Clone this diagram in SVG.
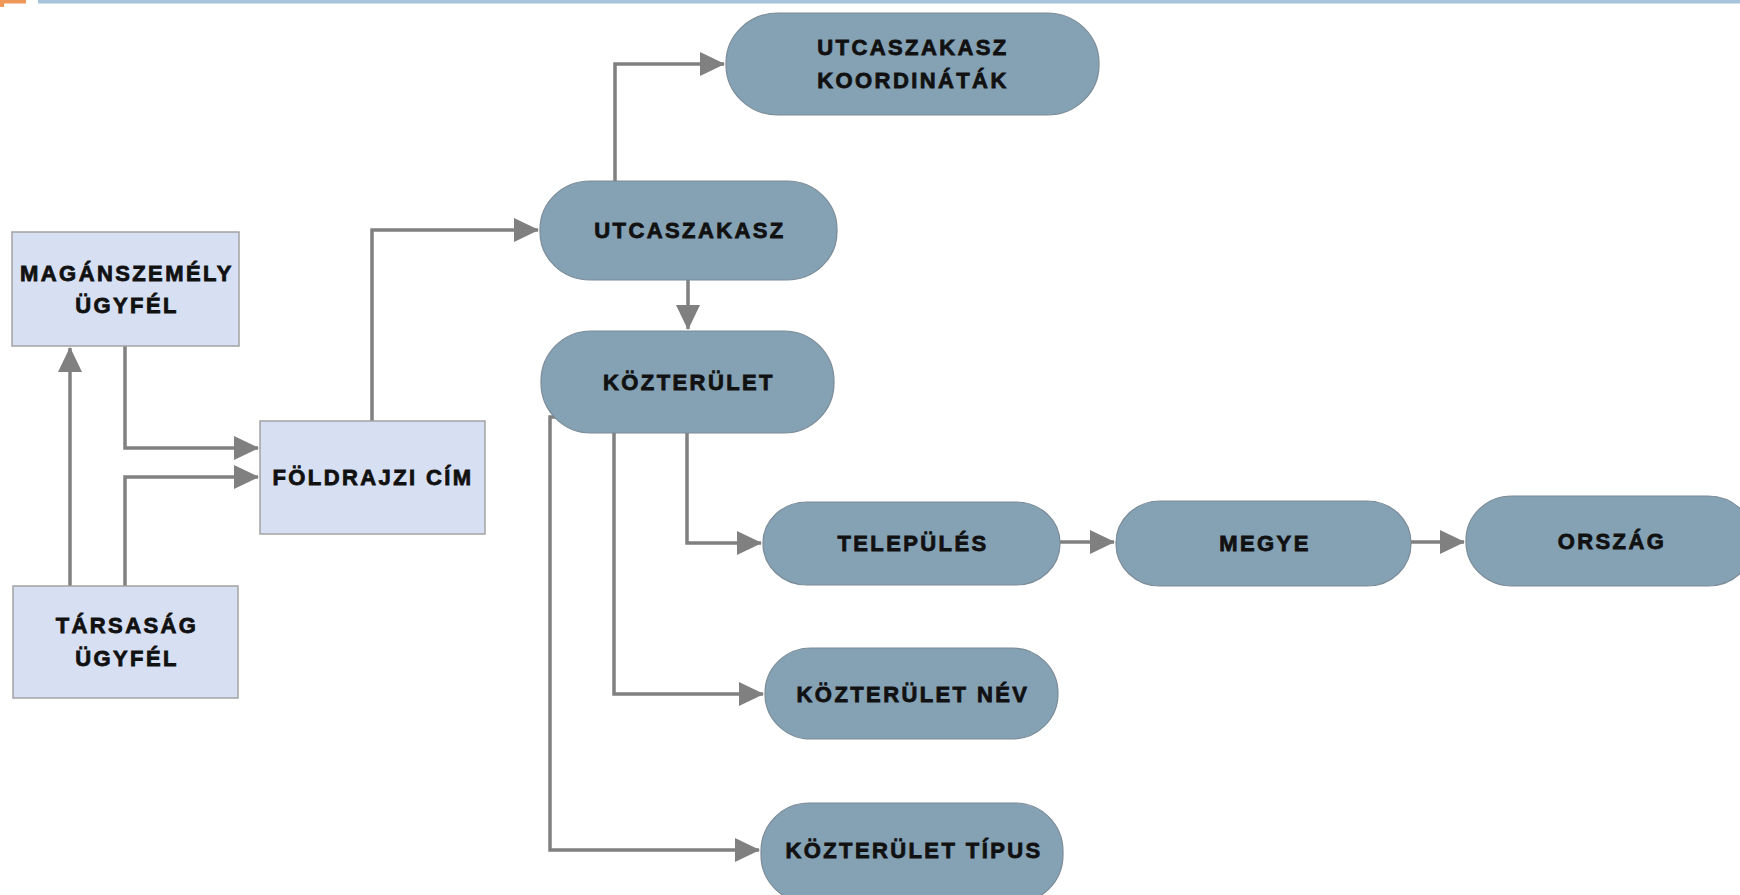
<svg xmlns="http://www.w3.org/2000/svg" width="1740" height="895" viewBox="0 0 1740 895">
<style>
.box{fill:#D7DFF3;stroke:#A3A3A3;stroke-width:1.5}
.pill{fill:#85A1B4;stroke:#7B8C98;stroke-width:1.2}
.t{font-family:"Liberation Sans",Arial,sans-serif;font-weight:bold;font-size:22px;letter-spacing:2.4px;fill:#111;stroke:#111;stroke-width:0.8;text-anchor:middle}
.c{fill:none;stroke:#808080;stroke-width:3.5}
</style>
<defs>
<marker id="ah" viewBox="0 0 25 24" refX="24" refY="12" markerWidth="25" markerHeight="24" markerUnits="userSpaceOnUse" orient="auto">
<path d="M0,0 L25,12 L0,24 Z" fill="#808080"/>
</marker>
</defs>
<rect x="0" y="0" width="26" height="3.5" fill="#EF985A"/>
<rect x="0" y="0" width="4" height="7" fill="#EF985A"/>
<rect x="38" y="0" width="1702" height="3.5" fill="#A8C4DC"/>

<g id="connectors">
<path class="c" d="M70,586 V348" marker-end="url(#ah)"/>
<path class="c" d="M125,346 V448 H258" marker-end="url(#ah)"/>
<path class="c" d="M125,586 V477 H258" marker-end="url(#ah)"/>
<path class="c" d="M372,421 V230 H538" marker-end="url(#ah)"/>
<path class="c" d="M615,181 V64 H724" marker-end="url(#ah)"/>
<path class="c" d="M688,280 V329" marker-end="url(#ah)"/>
<path class="c" d="M687,433 V543 H761" marker-end="url(#ah)"/>
<path class="c" d="M614,433 V694 H763" marker-end="url(#ah)"/>
<path class="c" d="M556,417 H550 V850 H759" marker-end="url(#ah)"/>
<path class="c" d="M1060,542 H1114" marker-end="url(#ah)"/>
<path class="c" d="M1411,542 H1464" marker-end="url(#ah)"/>
</g>

<g id="n-maganszemely">
<rect class="box" x="12" y="232" width="227" height="114"/>
<text class="t" x="127" y="281">MAGÁNSZEMÉLY</text>
<text class="t" x="127" y="313">ÜGYFÉL</text>
</g>
<g id="n-tarsasag">
<rect class="box" x="13" y="586" width="225" height="112"/>
<text class="t" x="127" y="633">TÁRSASÁG</text>
<text class="t" x="127" y="666">ÜGYFÉL</text>
</g>
<g id="n-foldrajzi">
<rect class="box" x="260" y="421" width="225" height="113"/>
<text class="t" x="373" y="485">FÖLDRAJZI CÍM</text>
</g>
<g id="n-koordinatak">
<rect class="pill" x="726" y="13" width="373" height="102" rx="52" ry="50"/>
<text class="t" x="913" y="55">UTCASZAKASZ</text>
<text class="t" x="913" y="88">KOORDINÁTÁK</text>
</g>
<g id="n-utcaszakasz">
<rect class="pill" x="540" y="181" width="297" height="99" rx="50" ry="48"/>
<text class="t" x="690" y="238">UTCASZAKASZ</text>
</g>
<g id="n-kozterulet">
<rect class="pill" x="541" y="331" width="293" height="102" rx="50" ry="50"/>
<text class="t" x="689" y="390">KÖZTERÜLET</text>
</g>
<g id="n-telepules">
<rect class="pill" x="763" y="502" width="297" height="83" rx="44" ry="41"/>
<text class="t" x="913" y="551">TELEPÜLÉS</text>
</g>
<g id="n-megye">
<rect class="pill" x="1116" y="501" width="295" height="85" rx="44" ry="42"/>
<text class="t" x="1265" y="551">MEGYE</text>
</g>
<g id="n-orszag">
<rect class="pill" x="1466" y="496" width="288" height="90" rx="46" ry="44"/>
<text class="t" x="1612" y="549">ORSZÁG</text>
</g>
<g id="n-kozterulet-nev">
<rect class="pill" x="765" y="648" width="293" height="91" rx="46" ry="45"/>
<text class="t" x="913" y="702">KÖZTERÜLET NÉV</text>
</g>
<g id="n-kozterulet-tipus">
<rect class="pill" x="761" y="803" width="302" height="100" rx="48" ry="48"/>
<text class="t" x="914" y="858">KÖZTERÜLET TÍPUS</text>
</g>
</svg>
